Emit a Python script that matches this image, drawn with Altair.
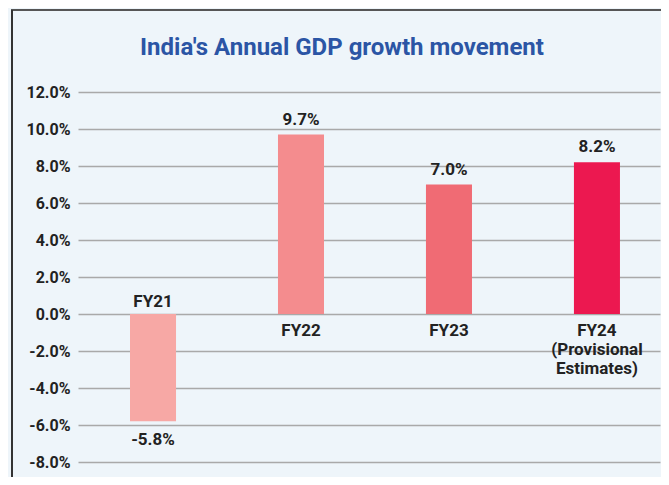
import altair as alt
import pandas as pd

categories = ["FY21", "FY22", "FY23", "FY24"]
values = [-5.8, 9.7, 7.0, 8.2]
cat_labels = ["FY21", "FY22", "FY23", "FY24\n(Provisional\nEstimates)"]
colors = ["#f7a8a5", "#f48c8e", "#f06b74", "#ec1850"]
y_ticks = [-8, -6, -4, -2, 0, 2, 4, 6, 8, 10, 12]
title_text = "India's Annual GDP growth movement"

df = pd.DataFrame({"cat": categories, "value": values, "lab": cat_labels})

FONT = "Roboto"
TXT = "#222222"
FMT = "(datum.value < 0 ? '-' : '') + format(abs(datum.value), '.1f') + '%'"

x_enc = alt.X("cat:N", sort=categories, axis=None,
              scale=alt.Scale(paddingInner=0.689, paddingOuter=0.311, align=0.565))
y_scale = alt.Scale(domain=[-8, 12], nice=False, zero=False)
y_axis = alt.Axis(values=y_ticks, tickCount=11, labelExpr=FMT, labelOverlap=False,
                  domain=False, ticks=False, labelFont=FONT, labelFontSize=16,
                  labelFontWeight="bold", labelColor=TXT, labelPadding=8,
                  grid=True, gridColor="#a9a9a9", gridWidth=1.5, title=None)


def yq(field):
    return alt.Y(field, type="quantitative", scale=y_scale, axis=y_axis, title=None)


base = alt.Chart(df)

bars = base.mark_bar().encode(
    x=x_enc,
    y=yq("value"),
    color=alt.Color("cat:N", scale=alt.Scale(domain=categories, range=colors), legend=None),
)

vals_pos = base.transform_filter("datum.value >= 0").transform_calculate(t=FMT).mark_text(
    font=FONT, fontSize=17, fontWeight="bold", color=TXT, baseline="alphabetic", dy=-10
).encode(x=x_enc, y=yq("value"), text="t:N")

vals_neg = base.transform_filter("datum.value < 0").transform_calculate(t=FMT).mark_text(
    font=FONT, fontSize=17, fontWeight="bold", color=TXT, baseline="alphabetic", dy=24
).encode(x=x_enc, y=yq("value"), text="t:N")

cats_neg = base.transform_filter("datum.value < 0").transform_calculate(value="0").mark_text(
    font=FONT, fontSize=17, fontWeight="bold", color=TXT, baseline="alphabetic", dy=-7
).encode(x=x_enc, y=yq("value"), text="lab:N")

cats_pos = base.transform_filter("datum.value >= 0").transform_calculate(value="0").mark_text(
    font=FONT, fontSize=17, fontWeight="bold", color=TXT, baseline="alphabetic", dy=22,
    lineBreak="\n", lineHeight=19
).encode(x=x_enc, y=yq("value"), text="lab:N")

one = base.transform_filter("datum.cat == 'FY21'")

title = one.transform_calculate(tt=f'"{title_text}"').mark_text(
    font=FONT, fontSize=24, fontWeight="bold", color="#2b55a5", baseline="alphabetic", align="center"
).encode(x=alt.value(264), y=alt.value(-37), text="tt:N")

frame_top = one.mark_rule(color="#555555", strokeWidth=2).encode(
    x=alt.value(-67), x2=alt.value(600), y=alt.value(-82)
)
frame_left = one.mark_rule(color="#333333", strokeWidth=2).encode(
    x=alt.value(-66), y=alt.value(-82), y2=alt.value(400)
)

chart = alt.layer(bars, vals_pos, vals_neg, cats_neg, cats_pos, title, frame_top, frame_left).properties(
    width=582, height=370,
    autosize=alt.AutoSizeParams(type="none"),
    padding={"left": 70, "top": 84, "right": 1, "bottom": 15},
    background="#eef5fa",
).configure_view(stroke=None)

chart.save("out.html", embed_options={"renderer": "svg", "actions": False})
